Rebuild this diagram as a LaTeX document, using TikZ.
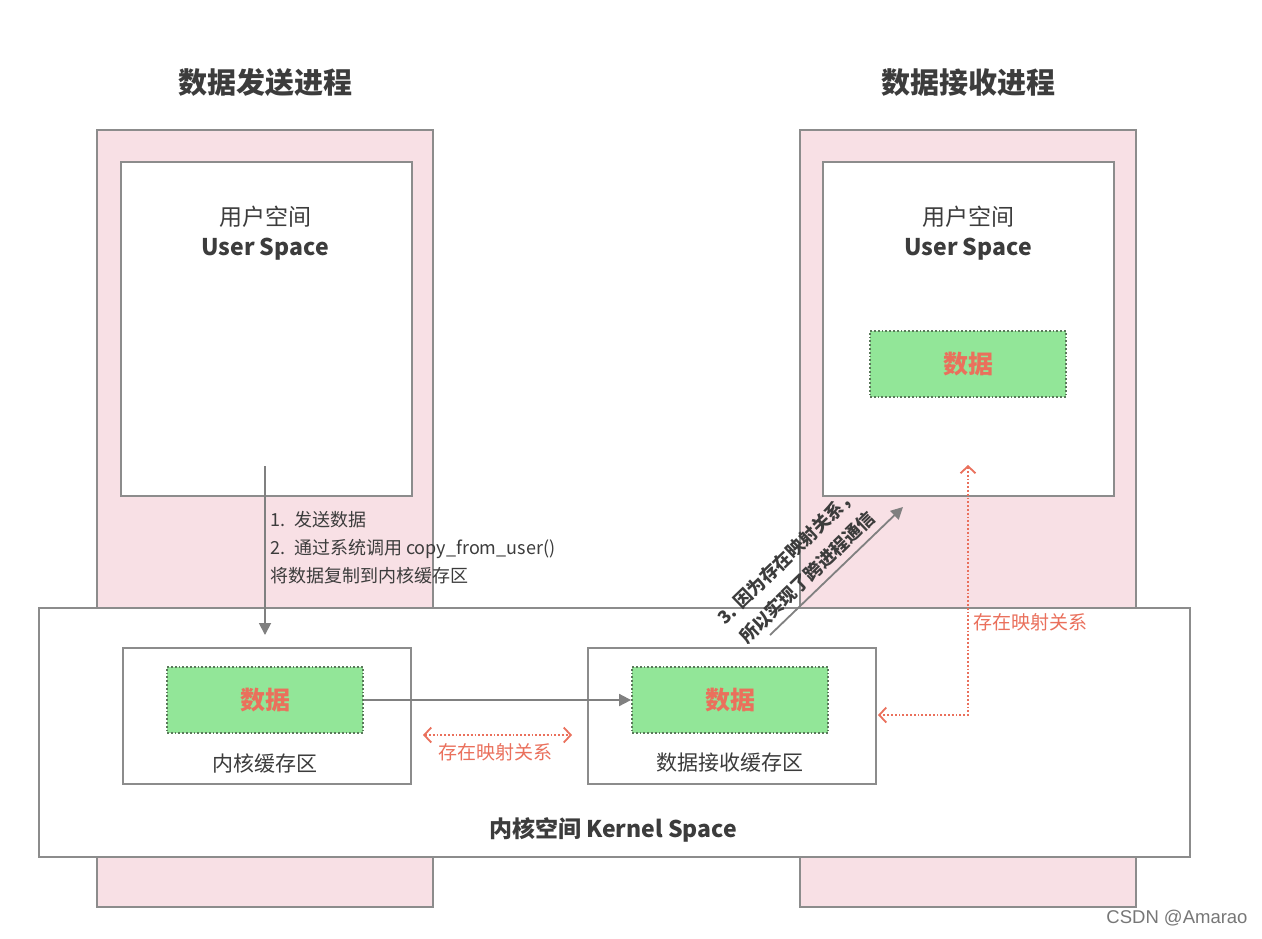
\documentclass[tikz,border=0pt]{standalone}
\usepackage{fontspec}
\setmainfont{Noto Sans CJK SC}
\newfontfamily\wmfont{Liberation Sans}
\usetikzlibrary{arrows.meta,positioning}
\definecolor{pinkfill}{RGB}{248,224,229}
\definecolor{boxgray}{RGB}{140,140,140}
\definecolor{greenfill}{RGB}{146,230,152}
\definecolor{dotgreen}{RGB}{90,120,90}
\definecolor{redtxt}{RGB}{234,112,92}
\definecolor{arrgray}{RGB}{128,128,128}
\definecolor{txtgray}{RGB}{60,60,60}
\tikzset{
  procbox/.style={draw=boxgray,line width=1.8pt,fill=pinkfill},
  whitebox/.style={draw=boxgray,line width=1.8pt,fill=white},
  databox/.style={draw=dotgreen,line width=1.8pt,dotted,fill=greenfill,
     font=\fontsize{25}{29}\selectfont\bfseries,text=redtxt},
  graytext/.style={text=txtgray},
  grayarrow/.style={draw=arrgray,line width=1.8pt,-{Triangle[length=12pt,width=12pt]}},
  redarrow/.style={draw=redtxt,line width=1.8pt,dotted},
  redlabel/.style={text=redtxt,font=\fontsize{19}{22}\selectfont},
}
\begin{document}
\begin{tikzpicture}[x=1pt,y=-1pt]
\useasboundingbox[fill=white] (0,0) rectangle (1262,938);
% titles
\node[graytext,font=\fontsize{29}{34}\selectfont\bfseries] (t1) at (265,83) {数据发送进程};
\node[graytext,font=\fontsize{29}{34}\selectfont\bfseries] (t2) at (968,83) {数据接收进程};
% process boxes
\draw[procbox] (97,130) rectangle (433,907);
\draw[procbox] (800,130) rectangle (1136,907);
\node[whitebox,minimum width=291pt,minimum height=334pt,anchor=north west] (u1) at (120,161) {};
\node[whitebox,minimum width=291pt,minimum height=334pt,anchor=north west] (u2) at (822,161) {};
\node[graytext,font=\fontsize{23}{26}\selectfont] (u1a) at (265,217) {用户空间};
\node[graytext,font=\fontsize{23}{26}\selectfont\bfseries] (u1b) at (265,249) {User Space};
\node[graytext,font=\fontsize{23}{26}\selectfont] (u2a) at (968,217) {用户空间};
\node[graytext,font=\fontsize{23}{26}\selectfont\bfseries] (u2b) at (968,249) {User Space};
\node[databox,minimum width=196pt,minimum height=66pt] (d3) at (968,364) {数据};
% kernel space
\node[whitebox,minimum width=1151pt,minimum height=249pt,anchor=north west] (k) at (38,607) {};
\node[graytext,font=\fontsize{23}{26}\selectfont\bfseries] (kl) at (613,830) {内核空间 Kernel Space};
\node[whitebox,minimum width=288pt,minimum height=136pt,anchor=north west] (b1) at (122,647) {};
\node[whitebox,minimum width=288pt,minimum height=136pt,anchor=north west] (b2) at (587,647) {};
\node[databox,minimum width=196pt,minimum height=66pt] (d1) at (265,700) {数据};
\node[databox,minimum width=196pt,minimum height=66pt] (d2) at (730,700) {数据};
\node[graytext,font=\fontsize{21}{24}\selectfont] (b1l) at (265,763) {内核缓存区};
\node[graytext,font=\fontsize{21}{24}\selectfont] (b2l) at (730,763) {数据接收缓存区};
% step 1-2
\coordinate (s1) at (265,466);
\coordinate (s1e) at (265,635);
\draw[grayarrow] (s1) -- (s1e);
\node[graytext,anchor=north west,align=left,inner sep=0pt,
  font=\fontsize{18}{28}\selectfont] (st) at (270,511)
  {1.\enspace 发送数据\\2.\enspace 通过系统调用 copy\_from\_user()\\将数据复制到内核缓存区};
% data transfer
\draw[grayarrow] (d1.east) -- (d2.west);
% mapping between buffers
\coordinate (m1) at (423,735);
\coordinate (m2) at (572,735);
\draw[redarrow,{Straight Barb[length=7pt,width=15pt,line width=1.8pt]}-{Straight Barb[length=7pt,width=15pt,line width=1.8pt]}] (m1) -- (m2);
\node[redlabel] (ml) at (495,752) {存在映射关系};
% mapping right
\coordinate (r1) at (968,465);
\coordinate (r2) at (968,715);
\coordinate (r3) at (878,715);
\draw[redarrow,{Straight Barb[length=7pt,width=15pt,line width=1.8pt]}-{Straight Barb[length=7pt,width=15pt,line width=1.8pt]}] (r1) -- (r2) -- (r3);
\node[redlabel,anchor=west] (rl) at (970,622) {存在映射关系};
% step 3
\coordinate (a1) at (770,635);
\coordinate (a2) at (903,507);
\draw[grayarrow] (a1) -- (a2);
\node[graytext,rotate=44,align=center,inner sep=0pt,
  font=\fontsize{18}{29}\selectfont\bfseries] (s3) at (797,567)
  {3. 因为存在映射关系，\\所以实现了跨进程通信};
% watermark
\node[text=txtgray!70,font=\wmfont\fontsize{18.5}{21}\selectfont] (wm) at (1177,918) {CSDN @Amarao};
\end{tikzpicture}
\end{document}
